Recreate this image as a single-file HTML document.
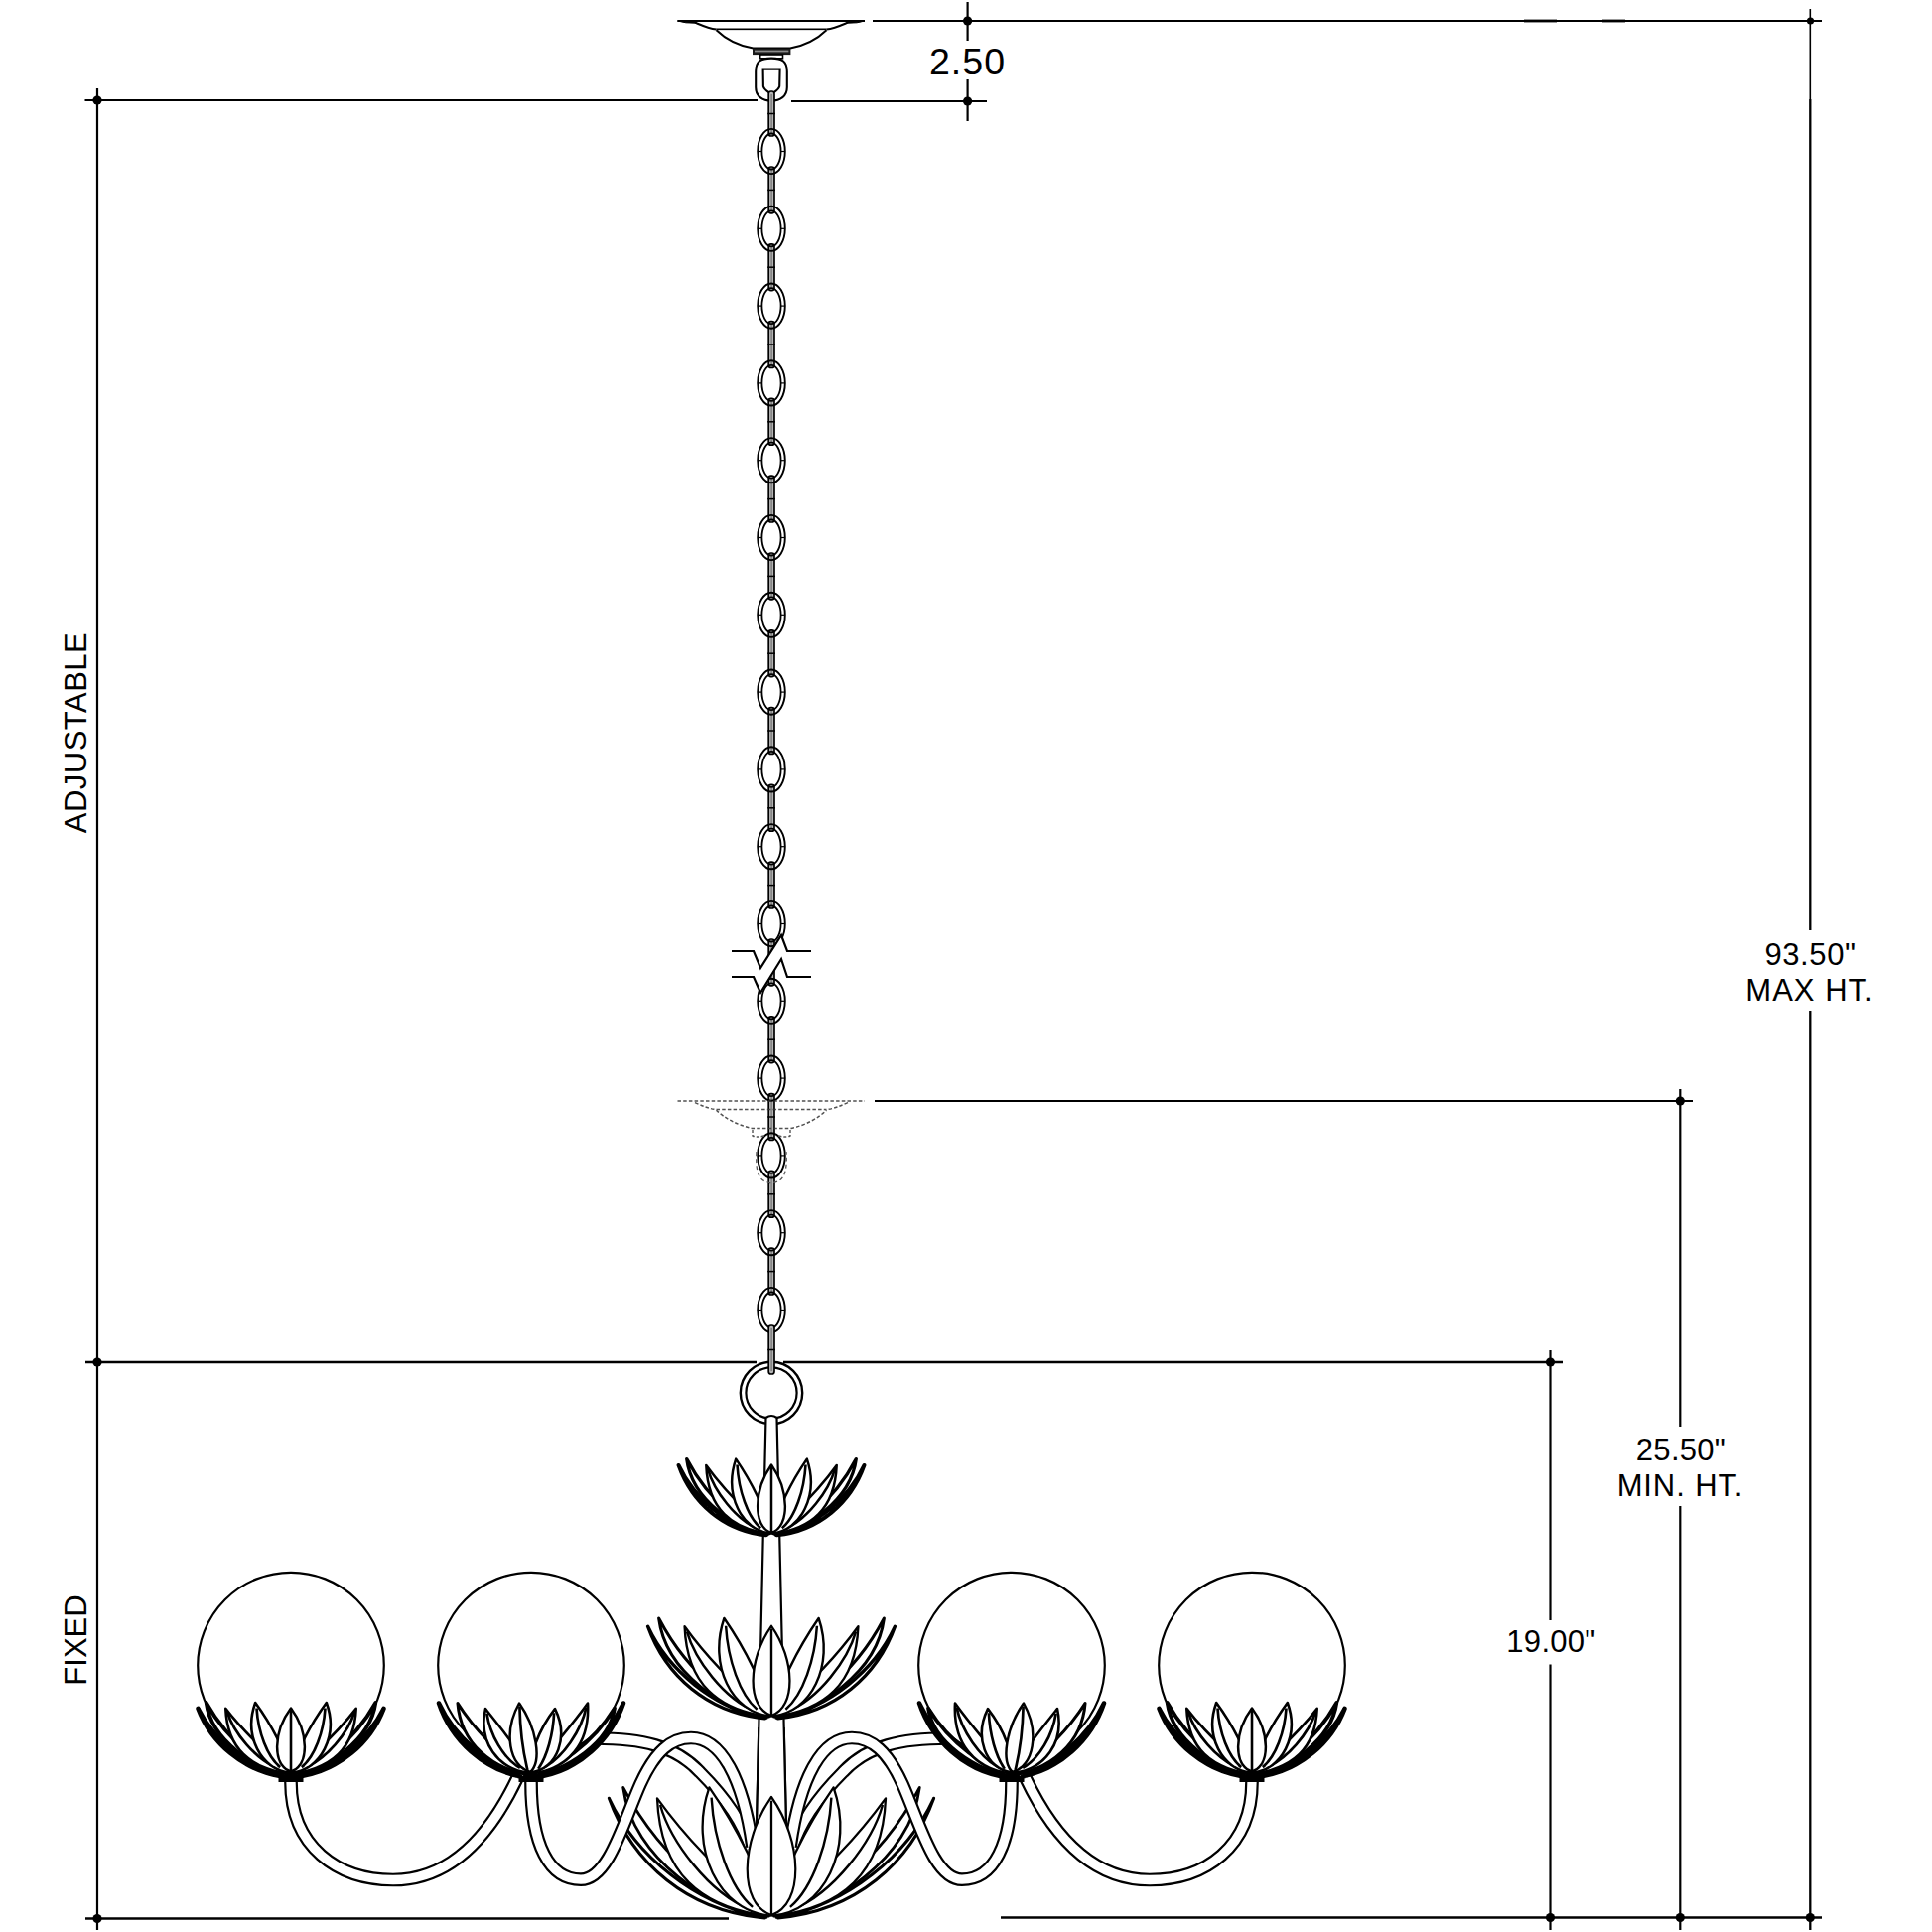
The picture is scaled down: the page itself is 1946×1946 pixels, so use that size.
<!DOCTYPE html><html><head><meta charset="utf-8"><style>html,body{margin:0;padding:0;background:#fff;}svg{display:block}text{font-family:"Liberation Sans",sans-serif;fill:#000}</style></head><body>
<svg width="1946" height="1946" viewBox="0 0 1946 1946">
<rect width="1946" height="1946" fill="#fff"/>
<line x1="879" y1="21" x2="1835" y2="21" stroke="#000" stroke-width="1.8"/><circle cx="974.6" cy="21" r="4.6" fill="#000"/><circle cx="1823.5" cy="21" r="3.6" fill="#000"/><path d="M1535 21 L1568 21 M1614 21 L1637 21" stroke="#000" stroke-width="3" opacity="0.8"/><line x1="974.6" y1="2" x2="974.6" y2="41" stroke="#000" stroke-width="2.2"/><line x1="974.6" y1="80" x2="974.6" y2="122" stroke="#000" stroke-width="2.2"/><circle cx="974.6" cy="102" r="4.6" fill="#000"/><line x1="797" y1="102" x2="994" y2="102" stroke="#000" stroke-width="2.2"/><line x1="85.5" y1="101" x2="763" y2="101" stroke="#000" stroke-width="2.2"/><circle cx="98" cy="101" r="4.6" fill="#000"/><line x1="98" y1="89" x2="98" y2="1944" stroke="#000" stroke-width="2.2"/><circle cx="98" cy="1372" r="4.6" fill="#000"/><circle cx="98" cy="1932.5" r="4.6" fill="#000"/><line x1="86" y1="1372" x2="762" y2="1372" stroke="#000" stroke-width="2.4"/><line x1="789" y1="1372" x2="1574" y2="1372" stroke="#000" stroke-width="2.4"/><circle cx="1561.5" cy="1372" r="4.6" fill="#000"/><line x1="1561.5" y1="1360" x2="1561.5" y2="1632" stroke="#000" stroke-width="2.2"/><line x1="1561.5" y1="1676.5" x2="1561.5" y2="1944" stroke="#000" stroke-width="2.2"/><line x1="881" y1="1109" x2="1705" y2="1109" stroke="#000" stroke-width="2.2"/><circle cx="1692.3" cy="1109" r="4.6" fill="#000"/><line x1="1692.3" y1="1097" x2="1692.3" y2="1437" stroke="#000" stroke-width="2.2"/><line x1="1692.3" y1="1517" x2="1692.3" y2="1944" stroke="#000" stroke-width="2.2"/><line x1="1823.3" y1="9" x2="1823.3" y2="100" stroke="#000" stroke-width="1.6"/><line x1="1823.3" y1="100" x2="1823.3" y2="937" stroke="#000" stroke-width="2.3"/><line x1="1823.3" y1="1018" x2="1823.3" y2="1944" stroke="#000" stroke-width="2.3"/><line x1="86" y1="1932.5" x2="734" y2="1932.5" stroke="#000" stroke-width="2.4"/><line x1="1008" y1="1931.5" x2="1835" y2="1931.5" stroke="#000" stroke-width="2.4"/><circle cx="1561.5" cy="1931.5" r="4.6" fill="#000"/><circle cx="1692.3" cy="1931.5" r="4.6" fill="#000"/><circle cx="1823.3" cy="1931.5" r="4.6" fill="#000"/>
<text x="974.5" y="74.5" font-size="37.5" text-anchor="middle" letter-spacing="1">2.50</text>
<text x="1823.5" y="971.6" font-size="31" text-anchor="middle" letter-spacing="0.6">93.50&quot;</text>
<text x="1823" y="1008" font-size="31" text-anchor="middle" letter-spacing="1">MAX HT.</text>
<text x="1693" y="1470.7" font-size="31" text-anchor="middle" letter-spacing="0.3">25.50&quot;</text>
<text x="1692.5" y="1507" font-size="31" text-anchor="middle" letter-spacing="0.9">MIN. HT.</text>
<text x="1562.5" y="1664.4" font-size="31" text-anchor="middle" letter-spacing="0.3">19.00&quot;</text>
<text transform="translate(86.5 738) rotate(-90)" font-size="31" text-anchor="middle" letter-spacing="0.5">ADJUSTABLE</text>
<text transform="translate(86.5 1652) rotate(-90)" font-size="31" text-anchor="middle">FIXED</text>
<path d="M682.5 21 L871 21" stroke="#000" stroke-width="2.2" fill="none"/><path d="M682.5 21 Q690 23.5 701 23.2 L701 21 Z M871 21 Q864 23.5 853 23.2 L853 21 Z" fill="#000" stroke="#000" stroke-width="1"/><path d="M700 22.6 C708 26, 714 28.8, 721.5 29.6 M854 22.6 C846 26, 840 28.8, 832.5 29.6" fill="none" stroke="#000" stroke-width="2"/><path d="M721.5 29.6 L832.5 29.6" fill="none" stroke="#000" stroke-width="2"/><path d="M721.5 30.2 C729 37.5, 742 45.5, 758.5 48.6 L796 48.6 C812 45.5, 825 37.5, 832.5 30.2" fill="#fff" stroke="#000" stroke-width="2"/>
<rect x="758" y="48.8" width="38.4" height="6.3" fill="#1a1a1a"/><rect x="760" y="50.6" width="34.4" height="1.8" fill="#8a8a8a"/>
<rect x="765.7" y="55" width="22.8" height="3.8" fill="#fff" stroke="#000" stroke-width="1.6"/>
<path d="M761.2 72 C761.2 62, 766 58.6, 777 58.6 C788 58.6, 792.8 62, 792.8 72 L792.8 88 C792.8 97, 786 101.6, 777 101.6 C768 101.6, 761.2 97, 761.2 88 Z" fill="#fff" stroke="#000" stroke-width="2.1"/>
<path d="M768.6 69.6 L785.6 69.6 L785.2 87 C784 91, 780 92.5, 777 95 C774 92.5, 770 91, 768.9 87 Z" fill="#fff" stroke="#000" stroke-width="2.1"/>
<rect x="774.2" y="92" width="5.8" height="45" rx="2.5" fill="#b5b5b5" stroke="#000" stroke-width="1.7"/><line x1="777.1" y1="95" x2="777.1" y2="134" stroke="#666" stroke-width="1"/><line x1="773.2" y1="114.5" x2="781" y2="114.5" stroke="#000" stroke-width="1.5"/><rect x="774.2" y="168" width="5.8" height="46.8" rx="2.5" fill="#b5b5b5" stroke="#000" stroke-width="1.7"/><line x1="777.1" y1="171" x2="777.1" y2="211.8" stroke="#666" stroke-width="1"/><line x1="773.2" y1="191.4" x2="781" y2="191.4" stroke="#000" stroke-width="1.5"/><rect x="774.2" y="245.8" width="5.8" height="46.8" rx="2.5" fill="#b5b5b5" stroke="#000" stroke-width="1.7"/><line x1="777.1" y1="248.8" x2="777.1" y2="289.6" stroke="#666" stroke-width="1"/><line x1="773.2" y1="269.2" x2="781" y2="269.2" stroke="#000" stroke-width="1.5"/><rect x="774.2" y="323.6" width="5.8" height="46.8" rx="2.5" fill="#b5b5b5" stroke="#000" stroke-width="1.7"/><line x1="777.1" y1="326.6" x2="777.1" y2="367.4" stroke="#666" stroke-width="1"/><line x1="773.2" y1="347" x2="781" y2="347" stroke="#000" stroke-width="1.5"/><rect x="774.2" y="401.4" width="5.8" height="46.8" rx="2.5" fill="#b5b5b5" stroke="#000" stroke-width="1.7"/><line x1="777.1" y1="404.4" x2="777.1" y2="445.2" stroke="#666" stroke-width="1"/><line x1="773.2" y1="424.8" x2="781" y2="424.8" stroke="#000" stroke-width="1.5"/><rect x="774.2" y="479.2" width="5.8" height="46.8" rx="2.5" fill="#b5b5b5" stroke="#000" stroke-width="1.7"/><line x1="777.1" y1="482.2" x2="777.1" y2="523" stroke="#666" stroke-width="1"/><line x1="773.2" y1="502.6" x2="781" y2="502.6" stroke="#000" stroke-width="1.5"/><rect x="774.2" y="557" width="5.8" height="46.8" rx="2.5" fill="#b5b5b5" stroke="#000" stroke-width="1.7"/><line x1="777.1" y1="560" x2="777.1" y2="600.8" stroke="#666" stroke-width="1"/><line x1="773.2" y1="580.4" x2="781" y2="580.4" stroke="#000" stroke-width="1.5"/><rect x="774.2" y="634.8" width="5.8" height="46.8" rx="2.5" fill="#b5b5b5" stroke="#000" stroke-width="1.7"/><line x1="777.1" y1="637.8" x2="777.1" y2="678.6" stroke="#666" stroke-width="1"/><line x1="773.2" y1="658.2" x2="781" y2="658.2" stroke="#000" stroke-width="1.5"/><rect x="774.2" y="712.6" width="5.8" height="46.8" rx="2.5" fill="#b5b5b5" stroke="#000" stroke-width="1.7"/><line x1="777.1" y1="715.6" x2="777.1" y2="756.4" stroke="#666" stroke-width="1"/><line x1="773.2" y1="736" x2="781" y2="736" stroke="#000" stroke-width="1.5"/><rect x="774.2" y="790.4" width="5.8" height="46.8" rx="2.5" fill="#b5b5b5" stroke="#000" stroke-width="1.7"/><line x1="777.1" y1="793.4" x2="777.1" y2="834.2" stroke="#666" stroke-width="1"/><line x1="773.2" y1="813.8" x2="781" y2="813.8" stroke="#000" stroke-width="1.5"/><rect x="774.2" y="868.2" width="5.8" height="46.8" rx="2.5" fill="#b5b5b5" stroke="#000" stroke-width="1.7"/><line x1="777.1" y1="871.2" x2="777.1" y2="912" stroke="#666" stroke-width="1"/><line x1="773.2" y1="891.6" x2="781" y2="891.6" stroke="#000" stroke-width="1.5"/><rect x="774.2" y="946" width="5.8" height="46.8" rx="2.5" fill="#b5b5b5" stroke="#000" stroke-width="1.7"/><line x1="777.1" y1="949" x2="777.1" y2="989.8" stroke="#666" stroke-width="1"/><line x1="773.2" y1="969.4" x2="781" y2="969.4" stroke="#000" stroke-width="1.5"/><rect x="774.2" y="1023.8" width="5.8" height="46.8" rx="2.5" fill="#b5b5b5" stroke="#000" stroke-width="1.7"/><line x1="777.1" y1="1026.8" x2="777.1" y2="1067.6" stroke="#666" stroke-width="1"/><line x1="773.2" y1="1047.2" x2="781" y2="1047.2" stroke="#000" stroke-width="1.5"/><rect x="774.2" y="1101.6" width="5.8" height="46.8" rx="2.5" fill="#b5b5b5" stroke="#000" stroke-width="1.7"/><line x1="777.1" y1="1104.6" x2="777.1" y2="1145.4" stroke="#666" stroke-width="1"/><line x1="773.2" y1="1125" x2="781" y2="1125" stroke="#000" stroke-width="1.5"/><rect x="774.2" y="1179.4" width="5.8" height="46.8" rx="2.5" fill="#b5b5b5" stroke="#000" stroke-width="1.7"/><line x1="777.1" y1="1182.4" x2="777.1" y2="1223.2" stroke="#666" stroke-width="1"/><line x1="773.2" y1="1202.8" x2="781" y2="1202.8" stroke="#000" stroke-width="1.5"/><rect x="774.2" y="1257.2" width="5.8" height="46.8" rx="2.5" fill="#b5b5b5" stroke="#000" stroke-width="1.7"/><line x1="777.1" y1="1260.2" x2="777.1" y2="1301" stroke="#666" stroke-width="1"/><line x1="773.2" y1="1280.6" x2="781" y2="1280.6" stroke="#000" stroke-width="1.5"/><ellipse cx="777" cy="152.5" rx="13.8" ry="22.6" fill="none" stroke="#000" stroke-width="1.9"/><ellipse cx="777" cy="152.5" rx="9.6" ry="18" fill="none" stroke="#000" stroke-width="1.8"/><line x1="763" y1="152.5" x2="767.5" y2="152.5" stroke="#000" stroke-width="1.2"/><line x1="786.5" y1="152.5" x2="791" y2="152.5" stroke="#000" stroke-width="1.2"/><ellipse cx="777" cy="230.3" rx="13.8" ry="22.6" fill="none" stroke="#000" stroke-width="1.9"/><ellipse cx="777" cy="230.3" rx="9.6" ry="18" fill="none" stroke="#000" stroke-width="1.8"/><line x1="763" y1="230.3" x2="767.5" y2="230.3" stroke="#000" stroke-width="1.2"/><line x1="786.5" y1="230.3" x2="791" y2="230.3" stroke="#000" stroke-width="1.2"/><ellipse cx="777" cy="308.1" rx="13.8" ry="22.6" fill="none" stroke="#000" stroke-width="1.9"/><ellipse cx="777" cy="308.1" rx="9.6" ry="18" fill="none" stroke="#000" stroke-width="1.8"/><line x1="763" y1="308.1" x2="767.5" y2="308.1" stroke="#000" stroke-width="1.2"/><line x1="786.5" y1="308.1" x2="791" y2="308.1" stroke="#000" stroke-width="1.2"/><ellipse cx="777" cy="385.9" rx="13.8" ry="22.6" fill="none" stroke="#000" stroke-width="1.9"/><ellipse cx="777" cy="385.9" rx="9.6" ry="18" fill="none" stroke="#000" stroke-width="1.8"/><line x1="763" y1="385.9" x2="767.5" y2="385.9" stroke="#000" stroke-width="1.2"/><line x1="786.5" y1="385.9" x2="791" y2="385.9" stroke="#000" stroke-width="1.2"/><ellipse cx="777" cy="463.7" rx="13.8" ry="22.6" fill="none" stroke="#000" stroke-width="1.9"/><ellipse cx="777" cy="463.7" rx="9.6" ry="18" fill="none" stroke="#000" stroke-width="1.8"/><line x1="763" y1="463.7" x2="767.5" y2="463.7" stroke="#000" stroke-width="1.2"/><line x1="786.5" y1="463.7" x2="791" y2="463.7" stroke="#000" stroke-width="1.2"/><ellipse cx="777" cy="541.5" rx="13.8" ry="22.6" fill="none" stroke="#000" stroke-width="1.9"/><ellipse cx="777" cy="541.5" rx="9.6" ry="18" fill="none" stroke="#000" stroke-width="1.8"/><line x1="763" y1="541.5" x2="767.5" y2="541.5" stroke="#000" stroke-width="1.2"/><line x1="786.5" y1="541.5" x2="791" y2="541.5" stroke="#000" stroke-width="1.2"/><ellipse cx="777" cy="619.3" rx="13.8" ry="22.6" fill="none" stroke="#000" stroke-width="1.9"/><ellipse cx="777" cy="619.3" rx="9.6" ry="18" fill="none" stroke="#000" stroke-width="1.8"/><line x1="763" y1="619.3" x2="767.5" y2="619.3" stroke="#000" stroke-width="1.2"/><line x1="786.5" y1="619.3" x2="791" y2="619.3" stroke="#000" stroke-width="1.2"/><ellipse cx="777" cy="697.1" rx="13.8" ry="22.6" fill="none" stroke="#000" stroke-width="1.9"/><ellipse cx="777" cy="697.1" rx="9.6" ry="18" fill="none" stroke="#000" stroke-width="1.8"/><line x1="763" y1="697.1" x2="767.5" y2="697.1" stroke="#000" stroke-width="1.2"/><line x1="786.5" y1="697.1" x2="791" y2="697.1" stroke="#000" stroke-width="1.2"/><ellipse cx="777" cy="774.9" rx="13.8" ry="22.6" fill="none" stroke="#000" stroke-width="1.9"/><ellipse cx="777" cy="774.9" rx="9.6" ry="18" fill="none" stroke="#000" stroke-width="1.8"/><line x1="763" y1="774.9" x2="767.5" y2="774.9" stroke="#000" stroke-width="1.2"/><line x1="786.5" y1="774.9" x2="791" y2="774.9" stroke="#000" stroke-width="1.2"/><ellipse cx="777" cy="852.7" rx="13.8" ry="22.6" fill="none" stroke="#000" stroke-width="1.9"/><ellipse cx="777" cy="852.7" rx="9.6" ry="18" fill="none" stroke="#000" stroke-width="1.8"/><line x1="763" y1="852.7" x2="767.5" y2="852.7" stroke="#000" stroke-width="1.2"/><line x1="786.5" y1="852.7" x2="791" y2="852.7" stroke="#000" stroke-width="1.2"/><ellipse cx="777" cy="930.5" rx="13.8" ry="22.6" fill="none" stroke="#000" stroke-width="1.9"/><ellipse cx="777" cy="930.5" rx="9.6" ry="18" fill="none" stroke="#000" stroke-width="1.8"/><line x1="763" y1="930.5" x2="767.5" y2="930.5" stroke="#000" stroke-width="1.2"/><line x1="786.5" y1="930.5" x2="791" y2="930.5" stroke="#000" stroke-width="1.2"/><ellipse cx="777" cy="1008.3" rx="13.8" ry="22.6" fill="none" stroke="#000" stroke-width="1.9"/><ellipse cx="777" cy="1008.3" rx="9.6" ry="18" fill="none" stroke="#000" stroke-width="1.8"/><line x1="763" y1="1008.3" x2="767.5" y2="1008.3" stroke="#000" stroke-width="1.2"/><line x1="786.5" y1="1008.3" x2="791" y2="1008.3" stroke="#000" stroke-width="1.2"/><ellipse cx="777" cy="1086.1" rx="13.8" ry="22.6" fill="none" stroke="#000" stroke-width="1.9"/><ellipse cx="777" cy="1086.1" rx="9.6" ry="18" fill="none" stroke="#000" stroke-width="1.8"/><line x1="763" y1="1086.1" x2="767.5" y2="1086.1" stroke="#000" stroke-width="1.2"/><line x1="786.5" y1="1086.1" x2="791" y2="1086.1" stroke="#000" stroke-width="1.2"/><ellipse cx="777" cy="1163.9" rx="13.8" ry="22.6" fill="none" stroke="#000" stroke-width="1.9"/><ellipse cx="777" cy="1163.9" rx="9.6" ry="18" fill="none" stroke="#000" stroke-width="1.8"/><line x1="763" y1="1163.9" x2="767.5" y2="1163.9" stroke="#000" stroke-width="1.2"/><line x1="786.5" y1="1163.9" x2="791" y2="1163.9" stroke="#000" stroke-width="1.2"/><ellipse cx="777" cy="1241.7" rx="13.8" ry="22.6" fill="none" stroke="#000" stroke-width="1.9"/><ellipse cx="777" cy="1241.7" rx="9.6" ry="18" fill="none" stroke="#000" stroke-width="1.8"/><line x1="763" y1="1241.7" x2="767.5" y2="1241.7" stroke="#000" stroke-width="1.2"/><line x1="786.5" y1="1241.7" x2="791" y2="1241.7" stroke="#000" stroke-width="1.2"/><ellipse cx="777" cy="1319.5" rx="13.8" ry="22.6" fill="none" stroke="#000" stroke-width="1.9"/><ellipse cx="777" cy="1319.5" rx="9.6" ry="18" fill="none" stroke="#000" stroke-width="1.8"/><line x1="763" y1="1319.5" x2="767.5" y2="1319.5" stroke="#000" stroke-width="1.2"/><line x1="786.5" y1="1319.5" x2="791" y2="1319.5" stroke="#000" stroke-width="1.2"/>
<path d="M735 958 L759 958 L766 975 L787 942 L793 958 L817 958 L817 984 L793 984 L787 966 L766 1000 L759 984 L735 984 Z" fill="#fff" stroke="none"/>
<path d="M737 958 L759 958 L766 975 L787 942 L793 958 L817 958" fill="none" stroke="#000" stroke-width="2.2"/>
<path d="M737 984 L759 984 L766 1000 L787 966 L793 984 L817 984" fill="none" stroke="#000" stroke-width="2.2"/>
<g opacity="0.85"><path d="M682.5 1109 L871 1109" stroke="#333" stroke-width="1.5" stroke-dasharray="3.5 2.2" fill="none"/><path d="M700 1110.6 C708 1114, 714 1116.8, 721.5 1117.6 M854 1110.6 C846 1114, 840 1116.8, 832.5 1117.6" fill="none" stroke="#333" stroke-width="1.5" stroke-dasharray="3.5 2.2"/><path d="M721.5 1117.6 L832.5 1117.6" fill="none" stroke="#333" stroke-width="1.5" stroke-dasharray="3.5 2.2"/><path d="M721.5 1118.2 C729 1125.5, 742 1133.5, 758.5 1136.6 L796 1136.6 C812 1133.5, 825 1125.5, 832.5 1118.2" fill="none" stroke="#333" stroke-width="1.5" stroke-dasharray="3.5 2.2"/></g>
<path d="M758 1138 L758 1144 Q762 1146 770 1144 M796 1138 L796 1144 Q792 1146 784 1144" fill="none" stroke="#555" stroke-width="1.4" stroke-dasharray="3 2"/>
<path d="M762 1160 C760 1190, 770 1190, 777 1192 C784 1190, 794 1190, 792 1160" fill="none" stroke="#555" stroke-width="1.3" stroke-dasharray="4 3"/>
<circle cx="777" cy="1403" r="31.2" fill="#fff" stroke="#000" stroke-width="2.4"/><circle cx="777" cy="1403" r="25.6" fill="none" stroke="#000" stroke-width="2.2"/>
<rect x="774.2" y="1335" width="5.8" height="49" rx="2.5" fill="#b5b5b5" stroke="#000" stroke-width="1.7"/><line x1="777.1" y1="1338" x2="777.1" y2="1381" stroke="#666" stroke-width="1"/><line x1="773.2" y1="1359.5" x2="781" y2="1359.5" stroke="#000" stroke-width="1.5"/>
<path d="M771.5 1428 Q777 1424 782.5 1428 L792 1840 L762 1840 Z" fill="#fff" stroke="#000" stroke-width="2.2"/>
<circle cx="293" cy="1677.6" r="93.8" fill="#fff" stroke="#000" stroke-width="2.2"/>
<circle cx="535" cy="1677.6" r="93.8" fill="#fff" stroke="#000" stroke-width="2.2"/>
<circle cx="1019" cy="1677.6" r="93.8" fill="#fff" stroke="#000" stroke-width="2.2"/>
<circle cx="1261" cy="1677.6" r="93.8" fill="#fff" stroke="#000" stroke-width="2.2"/>
<path d="M771.5 1546.4 C729 1541.9 697 1514 683.5 1475.9 C699 1509.8 733 1537.6 771.5 1546.4 Z" fill="#fff" stroke="#000" stroke-width="3.9" stroke-linejoin="round"/><path d="M782.5 1546.4 C825 1541.9 857 1514 870.5 1475.9 C855 1509.8 821 1537.6 782.5 1546.4 Z" fill="#fff" stroke="#000" stroke-width="3.9" stroke-linejoin="round"/><path d="M773 1545.9 C743 1540.8 697 1511.9 691.7 1469.6 C717 1518.3 755 1539.7 773 1545.9 Z" fill="#fff" stroke="#000" stroke-width="3.3" stroke-linejoin="round"/><path d="M781 1545.9 C811 1540.8 857 1511.9 862.3 1469.6 C837 1518.3 799 1539.7 781 1545.9 Z" fill="#fff" stroke="#000" stroke-width="3.3" stroke-linejoin="round"/><path d="M775 1545.1 C737 1539.7 713 1520.5 711.3 1475.9 C737 1511.9 763 1531.2 775 1545.1 Z" fill="#fff" stroke="#000" stroke-width="2.5" stroke-linejoin="round"/><path d="M765 1540.8 C741 1531.2 719 1501.2 713 1479.8" fill="none" stroke="#000" stroke-width="2.6"/><path d="M779 1545.1 C817 1539.7 841 1520.5 842.7 1475.9 C817 1511.9 791 1531.2 779 1545.1 Z" fill="#fff" stroke="#000" stroke-width="2.5" stroke-linejoin="round"/><path d="M789 1540.8 C813 1531.2 835 1501.2 841 1479.8" fill="none" stroke="#000" stroke-width="2.6"/><path d="M776.2 1544.5 C747 1541.9 729 1505.5 741.2 1469.6 C757 1492.6 772 1522.6 776.2 1544.5 Z" fill="#fff" stroke="#000" stroke-width="2.5" stroke-linejoin="round"/><path d="M766.2 1539.3 C753 1528 744 1501.2 742.5 1475.5" fill="none" stroke="#000" stroke-width="2.6"/><path d="M777.8 1544.5 C807 1541.9 825 1505.5 812.8 1469.6 C797 1492.6 782 1522.6 777.8 1544.5 Z" fill="#fff" stroke="#000" stroke-width="2.5" stroke-linejoin="round"/><path d="M787.8 1539.3 C801 1528 810 1501.2 811.5 1475.5" fill="none" stroke="#000" stroke-width="2.6"/><path d="M777 1544 C758 1537.6 759 1501.2 777 1475.5 C795 1501.2 796 1537.6 777 1544 Z" fill="#fff" stroke="#000" stroke-width="2.4" stroke-linejoin="round"/><path d="M777 1544 L777 1477.7" stroke="#000" stroke-width="2.5"/>
<path d="M770.4 1730.9 C713.2 1725.2 670.6 1688.5 652.6 1638.3 C673.3 1682.9 718.5 1719.5 770.4 1730.9 Z" fill="#fff" stroke="#000" stroke-width="3.4" stroke-linejoin="round"/><path d="M783.6 1730.9 C840.8 1725.2 883.4 1688.5 901.4 1638.3 C880.7 1682.9 835.5 1719.5 783.6 1730.9 Z" fill="#fff" stroke="#000" stroke-width="3.4" stroke-linejoin="round"/><path d="M772.2 1730.2 C731.8 1723.8 670.6 1685.7 663.6 1630 C697.2 1694.2 747.7 1722.4 772.2 1730.2 Z" fill="#fff" stroke="#000" stroke-width="3" stroke-linejoin="round"/><path d="M781.8 1730.2 C822.2 1723.8 883.4 1685.7 890.4 1630 C856.8 1694.2 806.3 1722.4 781.8 1730.2 Z" fill="#fff" stroke="#000" stroke-width="3" stroke-linejoin="round"/><path d="M774.6 1729.3 C723.8 1722.4 691.9 1697 689.6 1638.3 C723.8 1685.7 758.4 1711.1 774.6 1729.3 Z" fill="#fff" stroke="#000" stroke-width="2.4" stroke-linejoin="round"/><path d="M761 1723.8 C729.1 1711.1 699.9 1671.6 691.9 1643.4" fill="none" stroke="#000" stroke-width="2.5"/><path d="M779.4 1729.3 C830.2 1722.4 862.1 1697 864.4 1638.3 C830.2 1685.7 795.6 1711.1 779.4 1729.3 Z" fill="#fff" stroke="#000" stroke-width="2.4" stroke-linejoin="round"/><path d="M793 1723.8 C824.9 1711.1 854.1 1671.6 862.1 1643.4" fill="none" stroke="#000" stroke-width="2.5"/><path d="M776.1 1728.6 C737.1 1725.2 713.2 1677.2 729.4 1630 C750.4 1660.3 770.4 1699.8 776.1 1728.6 Z" fill="#fff" stroke="#000" stroke-width="2.4" stroke-linejoin="round"/><path d="M762.6 1721.8 C745.1 1706.8 733.1 1671.6 731.1 1637.8" fill="none" stroke="#000" stroke-width="2.5"/><path d="M777.9 1728.6 C816.9 1725.2 840.8 1677.2 824.6 1630 C803.6 1660.3 783.6 1699.8 777.9 1728.6 Z" fill="#fff" stroke="#000" stroke-width="2.4" stroke-linejoin="round"/><path d="M791.4 1721.8 C808.9 1706.8 820.9 1671.6 822.9 1637.8" fill="none" stroke="#000" stroke-width="2.5"/><path d="M777 1728 C751.7 1719.5 753.1 1671.6 777 1637.8 C800.9 1671.6 802.3 1719.5 777 1728 Z" fill="#fff" stroke="#000" stroke-width="2.3" stroke-linejoin="round"/><path d="M777 1728 L777 1640.6" stroke="#000" stroke-width="2.4"/>
<path d="M293 1795 C293 1860 340 1893.5 396 1893.5 C452 1893.5 492 1852 521 1791" fill="none" stroke="#000" stroke-width="13.7" stroke-linecap="butt"/><path d="M293 1795 C293 1860 340 1893.5 396 1893.5 C452 1893.5 492 1852 521 1791" fill="none" stroke="#fff" stroke-width="9.3" stroke-linecap="butt"/>
<path d="M 1261 1795 C 1261 1860 1214 1893.5 1158 1893.5 C 1102 1893.5 1062 1852 1033 1791" fill="none" stroke="#000" stroke-width="13.7" stroke-linecap="butt"/><path d="M 1261 1795 C 1261 1860 1214 1893.5 1158 1893.5 C 1102 1893.5 1062 1852 1033 1791" fill="none" stroke="#fff" stroke-width="9.3" stroke-linecap="butt"/>
<path d="M770.3 1931.9 C693 1925.3 637 1877.2 613.4 1811.3 C640.5 1869.8 700 1917.9 770.3 1931.9 Z" fill="#fff" stroke="#000" stroke-width="3.1" stroke-linejoin="round"/><path d="M783.7 1931.9 C861 1925.3 917 1877.2 940.6 1811.3 C913.5 1869.8 854 1917.9 783.7 1931.9 Z" fill="#fff" stroke="#000" stroke-width="3.1" stroke-linejoin="round"/><path d="M772.1 1931.3 C717.5 1923.5 637 1873.5 627.7 1800.4 C672 1884.6 738.5 1921.6 772.1 1931.3 Z" fill="#fff" stroke="#000" stroke-width="2.8" stroke-linejoin="round"/><path d="M781.9 1931.3 C836.5 1923.5 917 1873.5 926.3 1800.4 C882 1884.6 815.5 1921.6 781.9 1931.3 Z" fill="#fff" stroke="#000" stroke-width="2.8" stroke-linejoin="round"/><path d="M774.5 1930.3 C707 1921.6 665 1888.3 662 1811.3 C707 1873.5 752.5 1906.8 774.5 1930.3 Z" fill="#fff" stroke="#000" stroke-width="2.3" stroke-linejoin="round"/><path d="M756 1923.5 C714 1906.8 675.5 1855 665 1818" fill="none" stroke="#000" stroke-width="2.4"/><path d="M779.5 1930.3 C847 1921.6 889 1888.3 892 1811.3 C847 1873.5 801.5 1906.8 779.5 1930.3 Z" fill="#fff" stroke="#000" stroke-width="2.3" stroke-linejoin="round"/><path d="M798 1923.5 C840 1906.8 878.5 1855 889 1818" fill="none" stroke="#000" stroke-width="2.4"/>
<path d="M600 1751 C645 1751 680 1758 705 1785 C730 1810 748 1835 756 1862" fill="none" stroke="#000" stroke-width="13.7" stroke-linecap="butt"/><path d="M600 1751 C645 1751 680 1758 705 1785 C730 1810 748 1835 756 1862" fill="none" stroke="#fff" stroke-width="9.3" stroke-linecap="butt"/>
<path d="M 954 1751 C 909 1751 874 1758 849 1785 C 824 1810 806 1835 798 1862" fill="none" stroke="#000" stroke-width="13.7" stroke-linecap="butt"/><path d="M 954 1751 C 909 1751 874 1758 849 1785 C 824 1810 806 1835 798 1862" fill="none" stroke="#fff" stroke-width="9.3" stroke-linecap="butt"/>
<path d="M535 1795 C535 1858 553 1893.2 585 1893.2 C613 1893.2 628 1835 645 1797 C660 1764 676 1750.5 696 1750.5 C726 1750.5 748 1790 758 1860" fill="none" stroke="#000" stroke-width="13.7" stroke-linecap="butt"/><path d="M535 1795 C535 1858 553 1893.2 585 1893.2 C613 1893.2 628 1835 645 1797 C660 1764 676 1750.5 696 1750.5 C726 1750.5 748 1790 758 1860" fill="none" stroke="#fff" stroke-width="9.3" stroke-linecap="butt"/>
<path d="M 1019 1795 C 1019 1858 1001 1893.2 969 1893.2 C 941 1893.2 926 1835 909 1797 C 894 1764 878 1750.5 858 1750.5 C 828 1750.5 806 1790 796 1860" fill="none" stroke="#000" stroke-width="13.7" stroke-linecap="butt"/><path d="M 1019 1795 C 1019 1858 1001 1893.2 969 1893.2 C 941 1893.2 926 1835 909 1797 C 894 1764 878 1750.5 858 1750.5 C 828 1750.5 806 1790 796 1860" fill="none" stroke="#fff" stroke-width="9.3" stroke-linecap="butt"/>
<path d="M776.1 1929.6 C724.5 1925.3 693 1862.4 714.4 1800.4 C742 1840.2 768.2 1892 776.1 1929.6 Z" fill="#fff" stroke="#000" stroke-width="2.3" stroke-linejoin="round"/><path d="M758.1 1920.9 C735 1901.2 719.2 1855 716.6 1810.6" fill="none" stroke="#000" stroke-width="2.4"/><path d="M777.9 1929.6 C829.5 1925.3 861 1862.4 839.6 1800.4 C812 1840.2 785.8 1892 777.9 1929.6 Z" fill="#fff" stroke="#000" stroke-width="2.3" stroke-linejoin="round"/><path d="M795.9 1920.9 C819 1901.2 834.8 1855 837.4 1810.6" fill="none" stroke="#000" stroke-width="2.4"/>
<path d="M764.3 1740 L789.7 1740 L792.9 1880 L761.1 1880 Z" fill="#fff" stroke="none"/><path d="M764.3 1740 L761.1 1880 M789.7 1740 L792.9 1880" fill="none" stroke="#000" stroke-width="2.2"/>
<path d="M777 1929 C743.8 1917.8 745.5 1854.6 777 1810 C808.5 1854.6 810.2 1917.8 777 1929 Z" fill="#fff" stroke="#000" stroke-width="2.2" stroke-linejoin="round"/><path d="M777 1929 L777 1813.7" stroke="#000" stroke-width="2.3"/>
<path d="M282 1789 C245 1782.5 213 1756.5 199.5 1720.9 C215 1752.5 249 1778.5 282 1789 Z" fill="#fff" stroke="#000" stroke-width="4.5" stroke-linejoin="round"/><path d="M304 1789 C341 1782.5 373 1756.5 386.5 1720.9 C371 1752.5 337 1778.5 304 1789 Z" fill="#fff" stroke="#000" stroke-width="4.5" stroke-linejoin="round"/><path d="M285 1788 C259 1781.5 213 1754.5 207.7 1715 C233 1760.5 271 1780.5 285 1788 Z" fill="#fff" stroke="#000" stroke-width="3.8" stroke-linejoin="round"/><path d="M301 1788 C327 1781.5 373 1754.5 378.3 1715 C353 1760.5 315 1780.5 301 1788 Z" fill="#fff" stroke="#000" stroke-width="3.8" stroke-linejoin="round"/><path d="M289 1786.5 C253 1780.5 229 1762.5 227.3 1720.9 C253 1754.5 279 1772.5 289 1786.5 Z" fill="#fff" stroke="#000" stroke-width="2.6" stroke-linejoin="round"/><path d="M281 1781.5 C257 1772.5 235 1744.5 229 1724.5" fill="none" stroke="#000" stroke-width="2.7"/><path d="M297 1786.5 C333 1780.5 357 1762.5 358.7 1720.9 C333 1754.5 307 1772.5 297 1786.5 Z" fill="#fff" stroke="#000" stroke-width="2.6" stroke-linejoin="round"/><path d="M305 1781.5 C329 1772.5 351 1744.5 357 1724.5" fill="none" stroke="#000" stroke-width="2.7"/><path d="M291.5 1785.5 C263 1782.5 245 1748.5 257.2 1715 C273 1736.5 288 1764.5 291.5 1785.5 Z" fill="#fff" stroke="#000" stroke-width="2.6" stroke-linejoin="round"/><path d="M282.2 1780.1 C269 1769.5 260 1744.5 258.5 1720.5" fill="none" stroke="#000" stroke-width="2.7"/><path d="M294.5 1785.5 C323 1782.5 341 1748.5 328.8 1715 C313 1736.5 298 1764.5 294.5 1785.5 Z" fill="#fff" stroke="#000" stroke-width="2.6" stroke-linejoin="round"/><path d="M303.8 1780.1 C317 1769.5 326 1744.5 327.5 1720.5" fill="none" stroke="#000" stroke-width="2.7"/><path d="M293 1784.5 C274 1778.5 275 1744.5 293 1720.5 C311 1744.5 312 1778.5 293 1784.5 Z" fill="#fff" stroke="#000" stroke-width="2.5" stroke-linejoin="round"/><path d="M293 1784.5 L293 1722.5" stroke="#000" stroke-width="2.6"/>
<rect x="280.5" y="1789.5" width="25" height="5.5" fill="#000"/><path d="M283 1790 L303 1790 L296 1784 L290 1784 Z" fill="#000"/>
<path d="M545.8 1789.3 C582.1 1782.3 615 1754.2 628 1715.5 C611.9 1750.5 577.7 1778.2 545.8 1789.3 Z" fill="#fff" stroke="#000" stroke-width="4.5" stroke-linejoin="round"/><path d="M524.2 1789.3 C487.9 1782.3 455 1754.2 442 1715.5 C458.1 1750.5 492.3 1778.2 524.2 1789.3 Z" fill="#fff" stroke="#000" stroke-width="4.5" stroke-linejoin="round"/><path d="M542.7 1787.6 C569.4 1781.7 613.9 1757.2 619 1720.5 C593.7 1761.9 556.5 1780.3 542.7 1787.6 Z" fill="#fff" stroke="#000" stroke-width="3.7" stroke-linejoin="round"/><path d="M529.3 1787.3 C497.5 1780.8 464.2 1758 461 1715.5 C486.5 1755.8 517.6 1775.5 529.3 1787.3 Z" fill="#fff" stroke="#000" stroke-width="3.1" stroke-linejoin="round"/><path d="M538.3 1786.3 C572.1 1780.9 594.3 1757 592 1715.5 C569.2 1747.3 546.4 1769.4 538.3 1786.3 Z" fill="#fff" stroke="#000" stroke-width="2.6" stroke-linejoin="round"/><path d="M546.7 1780.9 C567.5 1770.9 585.7 1742.2 590.4 1719.9" fill="none" stroke="#000" stroke-width="2.7"/><path d="M532.6 1785.8 C501.6 1782 481.5 1755.2 489 1721.1 C508.2 1745.2 526.9 1768.3 532.6 1785.8 Z" fill="#fff" stroke="#000" stroke-width="2.6" stroke-linejoin="round"/><path d="M523.8 1780.8 C506.9 1771.4 493.5 1746.9 490.4 1725.7" fill="none" stroke="#000" stroke-width="2.7"/><path d="M536 1785.1 C561.4 1781.4 573.1 1749.5 559 1721.1 C542.5 1742 532.1 1770.1 536 1785.1 Z" fill="#fff" stroke="#000" stroke-width="2.6" stroke-linejoin="round"/><path d="M542.2 1781.7 C551.1 1768.9 557.1 1747 558.1 1725.2" fill="none" stroke="#000" stroke-width="2.7"/><path d="M534.5 1784.9 C512.3 1779.6 506.9 1744 523 1715.5 C540.3 1739.8 546 1773.3 534.5 1784.9 Z" fill="#fff" stroke="#000" stroke-width="2.5" stroke-linejoin="round"/><path d="M531.4 1783 C527 1765.3 523.9 1742.6 523.4 1718.8" fill="none" stroke="#000" stroke-width="2.7"/>
<rect x="522.5" y="1789.5" width="25" height="5.5" fill="#000"/><path d="M525 1790 L545 1790 L538 1784 L532 1784 Z" fill="#000"/>
<path d="M1008.2 1789.3 C971.9 1782.3 939 1754.2 926 1715.5 C942.1 1750.5 976.3 1778.2 1008.2 1789.3 Z" fill="#fff" stroke="#000" stroke-width="4.5" stroke-linejoin="round"/><path d="M1029.8 1789.3 C1066.1 1782.3 1099 1754.2 1112 1715.5 C1095.9 1750.5 1061.7 1778.2 1029.8 1789.3 Z" fill="#fff" stroke="#000" stroke-width="4.5" stroke-linejoin="round"/><path d="M1011.3 1787.6 C984.6 1781.7 940.1 1757.2 935 1720.5 C960.3 1761.9 997.5 1780.3 1011.3 1787.6 Z" fill="#fff" stroke="#000" stroke-width="3.7" stroke-linejoin="round"/><path d="M1024.7 1787.3 C1056.5 1780.8 1089.8 1758 1093 1715.5 C1067.5 1755.8 1036.4 1775.5 1024.7 1787.3 Z" fill="#fff" stroke="#000" stroke-width="3.1" stroke-linejoin="round"/><path d="M1015.7 1786.3 C981.9 1780.9 959.7 1757 962 1715.5 C984.8 1747.3 1007.6 1769.4 1015.7 1786.3 Z" fill="#fff" stroke="#000" stroke-width="2.6" stroke-linejoin="round"/><path d="M1007.3 1780.9 C986.5 1770.9 968.3 1742.2 963.6 1719.9" fill="none" stroke="#000" stroke-width="2.7"/><path d="M1021.4 1785.8 C1052.4 1782 1072.5 1755.2 1065 1721.1 C1045.8 1745.2 1027.1 1768.3 1021.4 1785.8 Z" fill="#fff" stroke="#000" stroke-width="2.6" stroke-linejoin="round"/><path d="M1030.2 1780.8 C1047.1 1771.4 1060.5 1746.9 1063.6 1725.7" fill="none" stroke="#000" stroke-width="2.7"/><path d="M1018 1785.1 C992.6 1781.4 980.9 1749.5 995 1721.1 C1011.5 1742 1021.9 1770.1 1018 1785.1 Z" fill="#fff" stroke="#000" stroke-width="2.6" stroke-linejoin="round"/><path d="M1011.8 1781.7 C1002.9 1768.9 996.9 1747 995.9 1725.2" fill="none" stroke="#000" stroke-width="2.7"/><path d="M1019.5 1784.9 C1041.7 1779.6 1047.1 1744 1031 1715.5 C1013.7 1739.8 1008 1773.3 1019.5 1784.9 Z" fill="#fff" stroke="#000" stroke-width="2.5" stroke-linejoin="round"/><path d="M1022.6 1783 C1027 1765.3 1030.1 1742.6 1030.6 1718.8" fill="none" stroke="#000" stroke-width="2.7"/>
<rect x="1006.5" y="1789.5" width="25" height="5.5" fill="#000"/><path d="M1009 1790 L1029 1790 L1022 1784 L1016 1784 Z" fill="#000"/>
<path d="M1250 1789 C1213 1782.5 1181 1756.5 1167.5 1720.9 C1183 1752.5 1217 1778.5 1250 1789 Z" fill="#fff" stroke="#000" stroke-width="4.5" stroke-linejoin="round"/><path d="M1272 1789 C1309 1782.5 1341 1756.5 1354.5 1720.9 C1339 1752.5 1305 1778.5 1272 1789 Z" fill="#fff" stroke="#000" stroke-width="4.5" stroke-linejoin="round"/><path d="M1253 1788 C1227 1781.5 1181 1754.5 1175.7 1715 C1201 1760.5 1239 1780.5 1253 1788 Z" fill="#fff" stroke="#000" stroke-width="3.8" stroke-linejoin="round"/><path d="M1269 1788 C1295 1781.5 1341 1754.5 1346.3 1715 C1321 1760.5 1283 1780.5 1269 1788 Z" fill="#fff" stroke="#000" stroke-width="3.8" stroke-linejoin="round"/><path d="M1257 1786.5 C1221 1780.5 1197 1762.5 1195.3 1720.9 C1221 1754.5 1247 1772.5 1257 1786.5 Z" fill="#fff" stroke="#000" stroke-width="2.6" stroke-linejoin="round"/><path d="M1249 1781.5 C1225 1772.5 1203 1744.5 1197 1724.5" fill="none" stroke="#000" stroke-width="2.7"/><path d="M1265 1786.5 C1301 1780.5 1325 1762.5 1326.7 1720.9 C1301 1754.5 1275 1772.5 1265 1786.5 Z" fill="#fff" stroke="#000" stroke-width="2.6" stroke-linejoin="round"/><path d="M1273 1781.5 C1297 1772.5 1319 1744.5 1325 1724.5" fill="none" stroke="#000" stroke-width="2.7"/><path d="M1259.5 1785.5 C1231 1782.5 1213 1748.5 1225.2 1715 C1241 1736.5 1256 1764.5 1259.5 1785.5 Z" fill="#fff" stroke="#000" stroke-width="2.6" stroke-linejoin="round"/><path d="M1250.2 1780.1 C1237 1769.5 1228 1744.5 1226.5 1720.5" fill="none" stroke="#000" stroke-width="2.7"/><path d="M1262.5 1785.5 C1291 1782.5 1309 1748.5 1296.8 1715 C1281 1736.5 1266 1764.5 1262.5 1785.5 Z" fill="#fff" stroke="#000" stroke-width="2.6" stroke-linejoin="round"/><path d="M1271.8 1780.1 C1285 1769.5 1294 1744.5 1295.5 1720.5" fill="none" stroke="#000" stroke-width="2.7"/><path d="M1261 1784.5 C1242 1778.5 1243 1744.5 1261 1720.5 C1279 1744.5 1280 1778.5 1261 1784.5 Z" fill="#fff" stroke="#000" stroke-width="2.5" stroke-linejoin="round"/><path d="M1261 1784.5 L1261 1722.5" stroke="#000" stroke-width="2.6"/>
<rect x="1248.5" y="1789.5" width="25" height="5.5" fill="#000"/><path d="M1251 1790 L1271 1790 L1264 1784 L1258 1784 Z" fill="#000"/>
</svg></body></html>
